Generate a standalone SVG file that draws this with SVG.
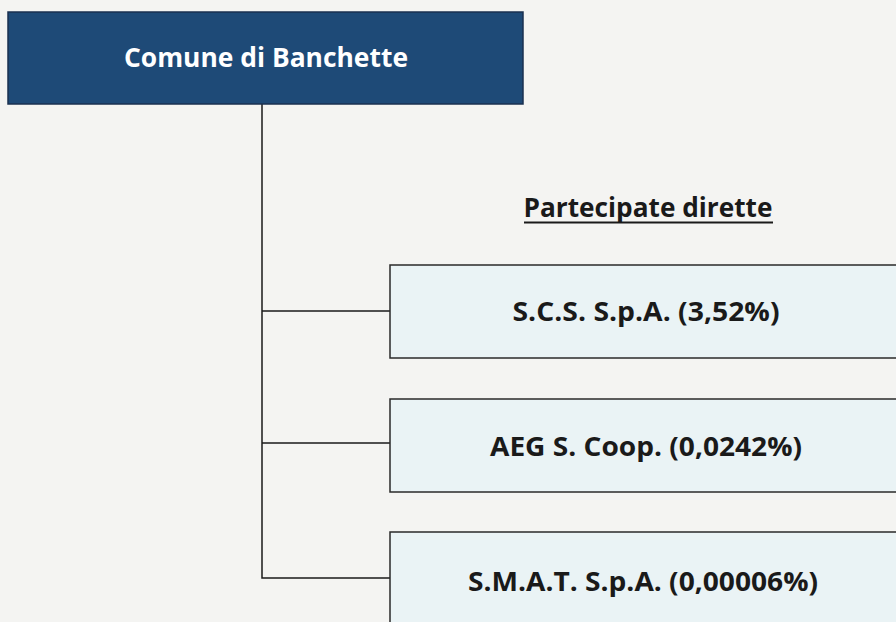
<svg xmlns="http://www.w3.org/2000/svg" width="896" height="622" viewBox="0 0 896 622">
<style>
.bg{fill:#f4f4f2}
.top{fill:#1e4a77;stroke:#1a3050;stroke-width:1.5}
.box{fill:#eaf3f5;stroke:#2a2a2a;stroke-width:1.5}
.line{fill:none;stroke:#1a1a1a;stroke-width:1.5}
.t{font-family:"Open Sans","Noto Sans","Liberation Sans",sans-serif;font-weight:bold;font-size:26px;fill:#1a1a1a;text-anchor:middle}
.tw{font-family:"Open Sans","Noto Sans","Liberation Sans",sans-serif;font-weight:bold;font-size:26px;fill:#ffffff;text-anchor:middle}
</style>
<rect class="bg" x="0" y="0" width="896" height="622"/>
<g id="connectors">
<path class="line" d="M262 104 V578 H390"/>
<path class="line" d="M262 311 H390"/>
<path class="line" d="M262 443 H390"/>
</g>
<g id="comune">
<rect class="top" x="8" y="12" width="515" height="92"/>
<text class="tw" x="266" y="67" textLength="284" lengthAdjust="spacingAndGlyphs">Comune di Banchette</text>
</g>
<g id="heading">
<text class="t" x="648" y="217" textLength="249" lengthAdjust="spacingAndGlyphs">Partecipate dirette</text>
<line x1="524" y1="222.5" x2="773" y2="222.5" stroke="#1a1a1a" stroke-width="2"/>
</g>
<g id="scs">
<rect class="box" x="390" y="265" width="520" height="93"/>
<text class="t" x="646" y="321" textLength="267" lengthAdjust="spacingAndGlyphs">S.C.S. S.p.A. (3,52%)</text>
</g>
<g id="aeg">
<rect class="box" x="390" y="399" width="520" height="93"/>
<text class="t" x="646" y="456" textLength="312" lengthAdjust="spacingAndGlyphs">AEG S. Coop. (0,0242%)</text>
</g>
<g id="smat">
<rect class="box" x="390" y="532" width="520" height="100"/>
<text class="t" x="643" y="591" textLength="350" lengthAdjust="spacingAndGlyphs">S.M.A.T. S.p.A. (0,00006%)</text>
</g>
</svg>
